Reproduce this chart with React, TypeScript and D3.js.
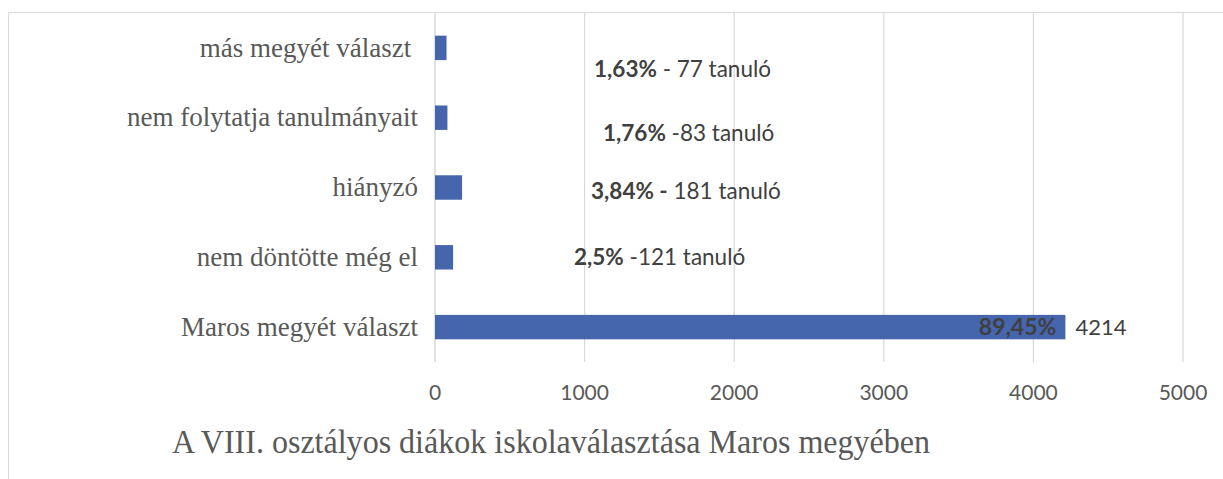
import React from 'react';
import * as d3 from 'd3';

const categories = ['más megyét választ ', 'nem folytatja tanulmányait', 'hiányzó', 'nem döntötte még el', 'Maros megyét választ'];
const values = [77, 83, 181, 121, 4214];
const pctLabels = ['1,63%', '1,76%', '3,84% -', '2,5%', '89,45%'];
const restLabels = [' - 77 tanuló', ' -83 tanuló', ' 181 tanuló', ' -121 tanuló', '4214'];
const xTicks = [0, 1000, 2000, 3000, 4000, 5000];
const title = 'A VIII. osztályos diákok iskolaválasztása Maros megyében';

// where the moved data labels sit (value units / px below band centre)
const labelX = [1063, 1123, 1043, 929];
const labelDy = [21, 15, 4, 0];

const W = 1223;
const H = 479;
const TEXT = '#595959';
const DARK = '#404040';
const BAR = '#4565ad';
const sans = 'Lato, "Open Sans", sans-serif';
const serif = '"Liberation Serif", "Times New Roman", serif';

const App = () => {
    const x = d3.scaleLinear().domain([0, 5000]).range([435, 1183]);
    const y = d3.scaleBand<string>().domain(categories).range([13, 362]).paddingInner(0.65).paddingOuter(0.325);
    const bh = y.bandwidth();

    return (
        <svg width={W} height={H} style={{ position: 'absolute', left: 0, top: 0, background: '#fff' }}>
            {/* chart frame, runs off the right edge */}
            <path d={`M8.5,${H} V12.5 H${W}`} fill="none" stroke="#d9d9d9" strokeWidth={1} />

            {xTicks.map(t => (
                <g key={t}>
                    <line x1={x(t)} x2={x(t)} y1={13} y2={362} stroke="#d9d9d9" strokeWidth={t === 0 ? 1.5 : 1.2} />
                    <text x={x(t)} y={400} textAnchor="middle" fontFamily={sans} fontSize={21} fill={TEXT}>{t}</text>
                </g>
            ))}

            {categories.map((c, i) => {
                const cy = y(c)! + bh / 2;
                return (
                    <g key={c}>
                        <rect x={x(0)} y={y(c)} width={x(values[i]) - x(0)} height={bh} fill={BAR} />
                        <text x={418} y={cy} dy="0.32em" textAnchor="end" fontFamily={serif} fontSize={27}
                            fill={TEXT} style={{ whiteSpace: 'pre' }}>{c}</text>
                    </g>
                );
            })}

            {categories.slice(0, 4).map((c, i) => (
                <text key={c} x={x(labelX[i])} y={y(c)! + bh / 2 + labelDy[i]} dy="0.35em" fontFamily={sans}
                    fontSize={22.5} fill={DARK} style={{ whiteSpace: 'pre' }}>
                    <tspan fontWeight="bold">{pctLabels[i]}</tspan>
                    <tspan>{restLabels[i]}</tspan>
                </text>
            ))}

            {/* last bar: percentage inside the bar end, count just outside */}
            <text x={x(values[4]) - 9} y={y(categories[4])! + bh / 2} dy="0.35em" textAnchor="end" fontFamily={sans}
                fontSize={23} fontWeight="bold" fill={DARK}>{pctLabels[4]}</text>
            <text x={x(values[4]) + 10} y={y(categories[4])! + bh / 2} dy="0.35em" fontFamily={sans}
                fontSize={22} fill={DARK}>{restLabels[4]}</text>

            <text x={172} y={453} fontFamily={serif} fontSize={33} fill={TEXT}
                textLength={758} lengthAdjust="spacingAndGlyphs">{title}</text>
        </svg>
    );
};

export default App;
